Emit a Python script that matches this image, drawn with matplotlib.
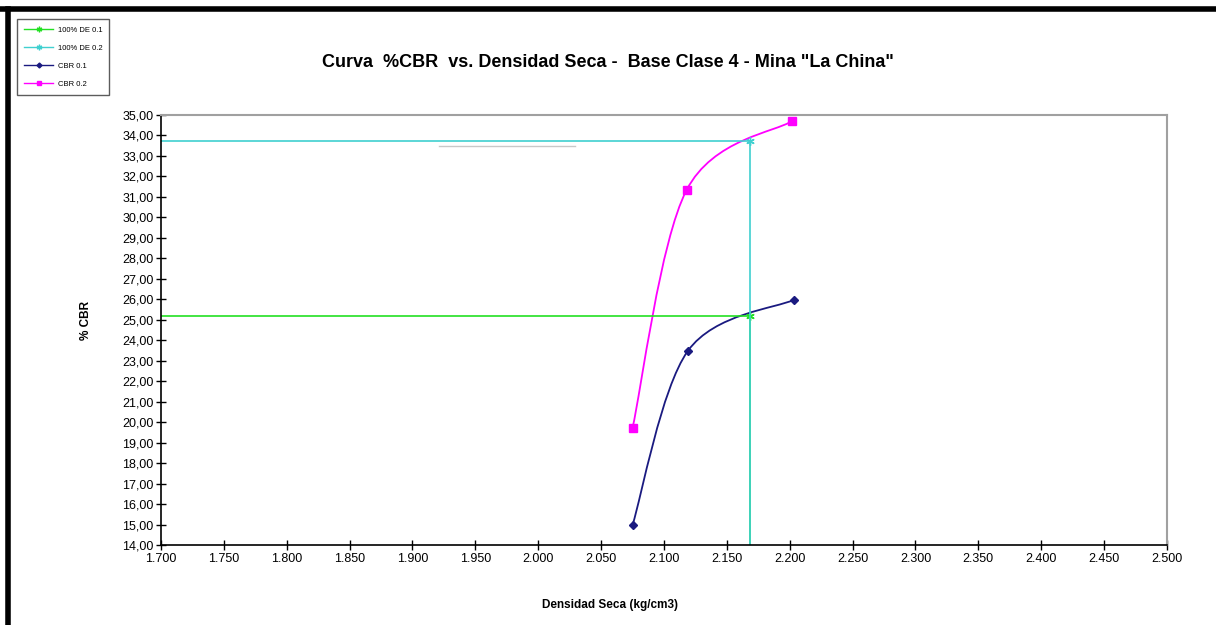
import matplotlib
matplotlib.use('Agg')
import matplotlib.pyplot as plt
from matplotlib.path import Path
from matplotlib.patches import PathPatch
from matplotlib.lines import Line2D
from matplotlib.ticker import FuncFormatter, MultipleLocator

plt.rcParams['font.family'] = ['Liberation Sans', 'DejaVu Sans']

# densidad seca (x) and %CBR values
dens_01 = [2.075, 2.119, 2.203]
cbr_01 = [14.98, 23.48, 25.97]
dens_02 = [2.075, 2.118, 2.202]
cbr_02 = [19.72, 31.34, 34.71]

# 100% densidad reference lines
de_x = [1.700, 2.168, 2.168]
de_01_y = [25.19, 25.19, 14.0]
de_02_y = [33.73, 33.73, 14.0]

x_min, x_max = 1.700, 2.500
y_min, y_max = 14.0, 35.0

c_green = '#22E022'
c_cyan = '#40D0D0'
c_navy = '#1A1A80'
c_mag = '#FF00FF'


def smooth_path(xs, ys):
    # excel style smoothed line: cubic bezier through the points
    pts = list(zip(xs, ys))
    n = len(pts)
    verts = [pts[0]]
    codes = [Path.MOVETO]
    for i in range(n - 1):
        p0 = pts[i - 1] if i > 0 else pts[i]
        p1 = pts[i]
        p2 = pts[i + 1]
        p3 = pts[i + 2] if i + 2 < n else pts[i + 1]
        c1 = (p1[0] + (p2[0] - p0[0]) / 6, p1[1] + (p2[1] - p0[1]) / 6)
        c2 = (p2[0] - (p3[0] - p1[0]) / 6, p2[1] - (p3[1] - p1[1]) / 6)
        verts += [c1, c2, p2]
        codes += [Path.CURVE4] * 3
    return Path(verts, codes)


fig = plt.figure(figsize=(12.16, 6.25), dpi=100)
ax = fig.add_axes([0.1324, 0.128, 0.8273, 0.688])

ax.plot(de_x, de_01_y, color=c_green, lw=1.2, marker=(6, 2, 0), ms=6,
        markevery=[1], mec=c_green, label='100% DE 0.1')
ax.plot(de_x, de_02_y, color=c_cyan, lw=1.2, marker=(6, 2, 0), ms=6,
        markevery=[1], mec=c_cyan, label='100% DE 0.2')

ax.add_patch(PathPatch(smooth_path(dens_01, cbr_01), fill=False, ec=c_navy, lw=1.3))
ax.add_patch(PathPatch(smooth_path(dens_02, cbr_02), fill=False, ec=c_mag, lw=1.3))
ax.plot(dens_01, cbr_01, ls='none', marker='D', ms=4, color=c_navy)
ax.plot(dens_02, cbr_02, ls='none', marker='s', ms=6, color=c_mag)

# stray grey line inside the plot area
ax.plot([1.921, 2.029], [33.49, 33.49], color='#C8C8C8', lw=1)

ax.set_xlim(x_min, x_max)
ax.set_ylim(y_min, y_max)
ax.xaxis.set_major_locator(MultipleLocator(0.05))
ax.yaxis.set_major_locator(MultipleLocator(1))
ax.xaxis.set_major_formatter(FuncFormatter(lambda v, p: f'{v:.3f}'))
ax.yaxis.set_major_formatter(FuncFormatter(lambda v, p: f'{v:.2f}'.replace('.', ',')))
ax.tick_params(direction='inout', length=7, width=1, labelsize=9, colors='black')
ax.tick_params(axis='x', pad=2)
ax.tick_params(axis='y', pad=2)

for s in ['top', 'right']:
    ax.spines[s].set_color('#A0A0A0')
    ax.spines[s].set_linewidth(1.5)
for s in ['left', 'bottom']:
    ax.spines[s].set_color('black')
    ax.spines[s].set_linewidth(1.2)

ax.set_xlabel('Densidad Seca (kg/cm3)', fontsize=8.5, fontweight='bold')
ax.set_ylabel('% CBR', fontsize=8.5, fontweight='bold')
ax.xaxis.set_label_coords(0.446, -0.126)
ax.yaxis.set_label_coords(-0.0686, 0.523)

fig.text(0.5, 0.9, 'Curva  %CBR  vs. Densidad Seca -  Base Clase 4 - Mina "La China"',
         ha='center', va='center', fontsize=13, fontweight='bold')

handles = [
    Line2D([], [], color=c_green, lw=1, marker=(6, 2, 0), ms=4, mec=c_green),
    Line2D([], [], color=c_cyan, lw=1, marker=(6, 2, 0), ms=4, mec=c_cyan),
    Line2D([], [], color=c_navy, lw=1, marker='D', ms=2.5),
    Line2D([], [], color=c_mag, lw=1, marker='s', ms=3.5),
]
labels = ['100% DE 0.1', '100% DE 0.2', 'CBR 0.1', 'CBR 0.2']
leg = fig.legend(handles, labels, loc='upper left', bbox_to_anchor=(0.011, 0.975),
                 fontsize=5.5, frameon=True, fancybox=False, handlelength=3.8,
                 labelspacing=1.4, borderpad=0.9, handletextpad=0.6)
leg.get_frame().set_edgecolor('#333333')
leg.get_frame().set_linewidth(1)

# thick frame at top and left of the picture
fig.add_artist(Line2D([0.0, 1.0], [0.985, 0.985], color='black', lw=4, transform=fig.transFigure))
fig.add_artist(Line2D([0.0063, 0.0063], [0.0, 0.985], color='black', lw=4, transform=fig.transFigure))

fig.savefig('out.png', dpi=100)
